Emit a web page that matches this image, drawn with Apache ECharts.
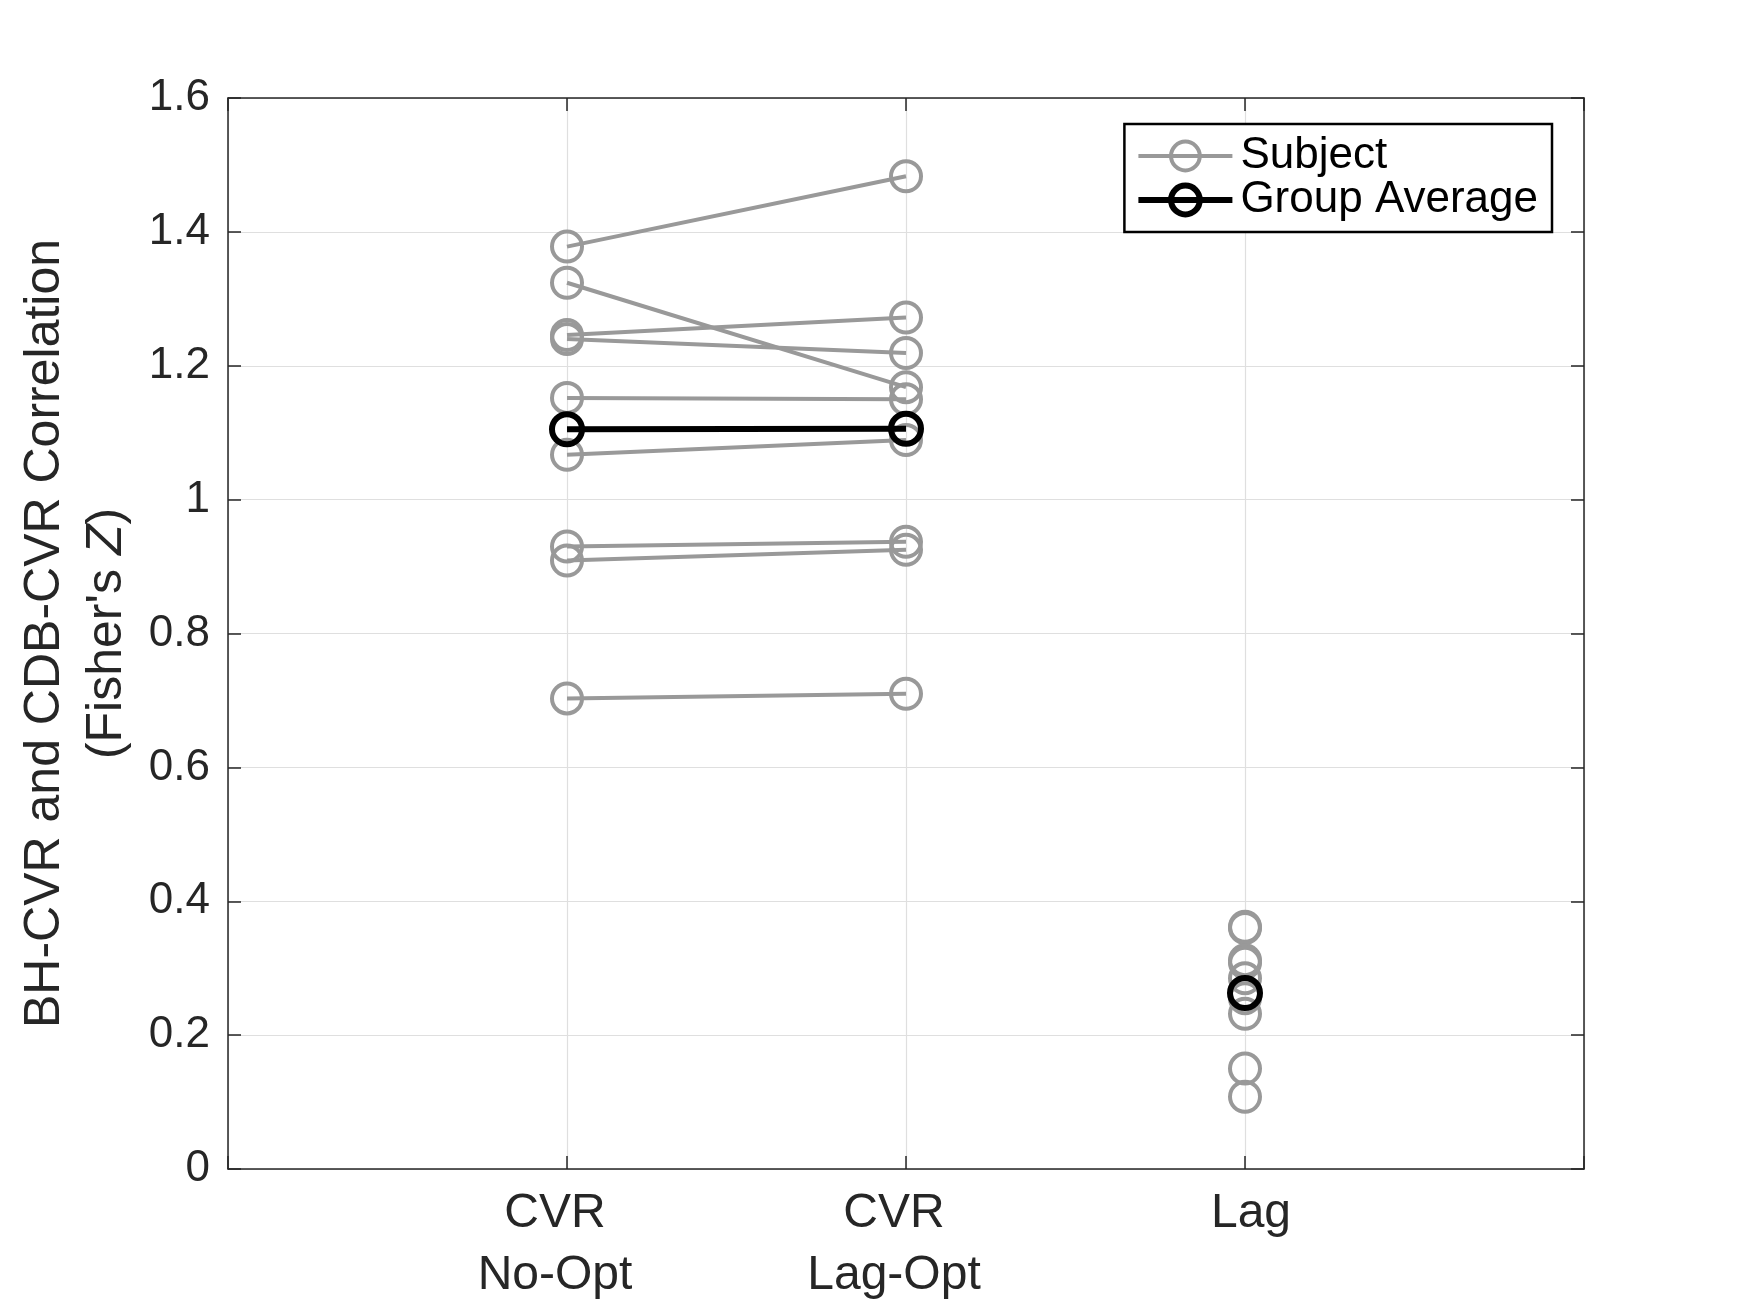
<!DOCTYPE html>
<html>
<head>
<meta charset="utf-8">
<script src="https://cdn.jsdelivr.net/npm/echarts@6/dist/echarts.min.js"></script>
<style>
  html, body { margin: 0; padding: 0; background: #ffffff; }
  #chart { width: 1750px; height: 1313px; }
</style>
</head>
<body>
<div id="chart"></div>
<script>
// ---- data ----
const categories = ['CVR\nNo-Opt', 'CVR\nLag-Opt', 'Lag'];
const categoryPositions = [1, 2, 3];
// per-subject Fisher's Z correlation
const cvrNoOpt  = [1.378, 1.324, 1.246, 1.240, 1.152, 1.067, 0.930, 0.909, 0.703];
const cvrLagOpt = [1.483, 1.168, 1.272, 1.219, 1.150, 1.089, 0.937, 0.925, 0.710];
const lagValues = [0.362, 0.360, 0.312, 0.308, 0.285, 0.255, 0.232, 0.150, 0.108];
// group averages
const groupAvgCvr = [1.105, 1.106];
const groupAvgLag = 0.263;
const yTicks = [0, 0.2, 0.4, 0.6, 0.8, 1, 1.2, 1.4, 1.6];

const GRAY = '#999999';
const AXIS = '#262626';
const FONT = '"Liberation Sans", Arial, Helvetica, sans-serif';

const series = [];
cvrNoOpt.forEach(function (v, i) {
  series.push({
    type: 'line', name: 'Subject', z: 2,
    data: [[categoryPositions[0], v], [categoryPositions[1], cvrLagOpt[i]]],
    symbol: 'circle', symbolSize: 30,
    lineStyle: { color: GRAY, width: 4 },
    itemStyle: { color: 'transparent', borderColor: GRAY, borderWidth: 4, opacity: 1 },
    emphasis: { disabled: true }, animation: false
  });
});
series.push({
  type: 'scatter', name: 'Subject', z: 2,
  data: lagValues.map(function (v) { return [categoryPositions[2], v]; }),
  symbol: 'circle', symbolSize: 30,
  itemStyle: { color: 'transparent', borderColor: GRAY, borderWidth: 4, opacity: 1 },
  emphasis: { disabled: true }, animation: false
});
series.push({
  type: 'line', name: 'Group Average', z: 5,
  data: [[categoryPositions[0], groupAvgCvr[0]], [categoryPositions[1], groupAvgCvr[1]]],
  symbol: 'circle', symbolSize: 30,
  lineStyle: { color: '#000', width: 6 },
  itemStyle: { color: 'transparent', borderColor: '#000', borderWidth: 6, opacity: 1 },
  emphasis: { disabled: true }, animation: false
});
series.push({
  type: 'scatter', name: 'Group Average', z: 5,
  data: [[categoryPositions[2], groupAvgLag]],
  symbol: 'circle', symbolSize: 30,
  itemStyle: { color: 'transparent', borderColor: '#000', borderWidth: 6, opacity: 1 },
  emphasis: { disabled: true }, animation: false
});

function xLabel(val) {
  const idx = categoryPositions.indexOf(val);
  if (idx < 0) return '';
  const parts = categories[idx].split('\n');
  const style = idx === 2 ? 'r' : 'l';
  return parts.map(function (p) { return '{' + style + '|' + p + '}'; }).join('\n');
}

const tickStyle = { show: true, inside: true, length: 13, lineStyle: { color: AXIS, width: 1.5 } };
const lineStyleAxis = { show: true, onZero: false, lineStyle: { color: AXIS, width: 1.5 } };

const chart = echarts.init(document.getElementById('chart'), null, { renderer: 'canvas' });
chart.setOption({
  backgroundColor: '#ffffff',
  animation: false,
  textStyle: { fontFamily: FONT },
  grid: { left: 228, top: 98, right: 166, bottom: 144, containLabel: false },
  legend: {
    orient: 'vertical',
    right: 198, top: 124,
    backgroundColor: '#ffffff',
    borderColor: '#000', borderWidth: 2.5, borderRadius: 0,
    padding: [10, 14, 10, 11],
    itemWidth: 94, itemHeight: 36, itemGap: 0,
    textStyle: { fontFamily: FONT, fontSize: 44, lineHeight: 38, color: '#000', padding: [0, 0, 0, 3] },
    data: [
      { name: 'Subject',
        itemStyle: { color: 'transparent', borderColor: GRAY, borderWidth: 4 },
        lineStyle: { color: GRAY, width: 4 } },
      { name: 'Group Average',
        itemStyle: { color: 'transparent', borderColor: '#000', borderWidth: 6 },
        lineStyle: { color: '#000', width: 6 } }
    ],
    selectedMode: false
  },
  xAxis: [{
    type: 'value', min: 0, max: 4, interval: 1, position: 'bottom',
    axisLine: lineStyleAxis,
    axisTick: tickStyle,
    splitLine: { show: true, lineStyle: { color: '#dfdfdf', width: 1.2 } },
    axisLabel: {
      margin: 14, color: AXIS, fontFamily: FONT, fontSize: 48, lineHeight: 62,
      formatter: xLabel,
      rich: {
        l: { fontFamily: FONT, fontSize: 48, lineHeight: 62, color: AXIS, padding: [0, 24, 0, 0] },
        r: { fontFamily: FONT, fontSize: 48, lineHeight: 62, color: AXIS, padding: [0, 0, 0, 12] }
      }
    }
  }, {
    type: 'value', min: 0, max: 4, interval: 1, position: 'top',
    axisLine: lineStyleAxis,
    axisTick: tickStyle,
    splitLine: { show: false },
    axisLabel: { show: false }
  }],
  yAxis: [{
    type: 'value', min: 0, max: 1.6, interval: 0.2, position: 'left',
    name: "BH-CVR and CDB-CVR Correlation\n(Fisher's {i|Z})",
    nameLocation: 'middle', nameGap: 82,
    nameTextStyle: {
      fontFamily: FONT, fontSize: 50, lineHeight: 62, color: AXIS, align: 'center',
      rich: { i: { fontFamily: FONT, fontSize: 50, lineHeight: 62, fontStyle: 'italic', color: AXIS } }
    },
    axisLine: lineStyleAxis,
    axisTick: tickStyle,
    splitLine: { show: true, lineStyle: { color: '#dfdfdf', width: 1.2 } },
    axisLabel: {
      margin: 18, color: AXIS, fontFamily: FONT, fontSize: 44, padding: [12, 0, 0, 0],
      formatter: function (v) { return String(Math.round(v * 10) / 10); }
    }
  }, {
    type: 'value', min: 0, max: 1.6, interval: 0.2, position: 'right',
    axisLine: lineStyleAxis,
    axisTick: tickStyle,
    splitLine: { show: false },
    axisLabel: { show: false }
  }],
  series: series
});
</script>
</body>
</html>
